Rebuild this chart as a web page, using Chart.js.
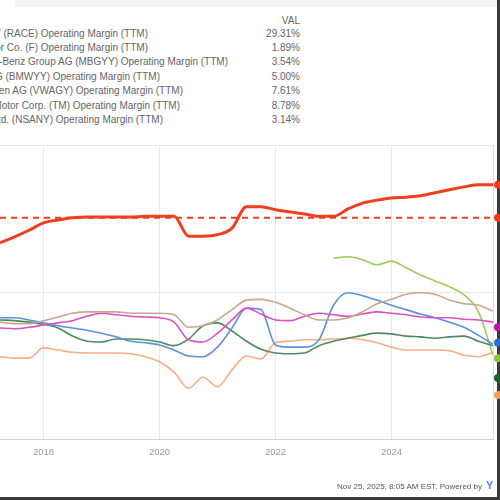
<!DOCTYPE html>
<html>
<head>
<meta charset="utf-8">
<script src="https://cdn.jsdelivr.net/npm/chart.js@4.4.1/dist/chart.umd.min.js"></script>
<style>
  html, body { margin: 0; padding: 0; background: #fff; }
  body { width: 500px; height: 500px; overflow: hidden; position: relative; font-family: "Liberation Sans", Arial, sans-serif; }
  #topBand { position: absolute; left: 15px; top: 0; width: 485px; height: 7px; background: #f3f3f3; }
  #frameR { position: absolute; left: 497px; top: 0; width: 3px; height: 500px; background: #3a3a3a; }
  #frameB { position: absolute; left: 0; top: 497px; width: 500px; height: 3px; background: #3a3a3a; }
  #chartBox { position: absolute; left: 0; top: 0; width: 500px; height: 500px; }
  .lg { position: absolute; white-space: nowrap; font-size: 10px; color: #666; line-height: 11px; }
  .val { position: absolute; white-space: nowrap; font-size: 10px; color: #666; line-height: 11px; text-align: right; }
  #stamp { position: absolute; right: 18px; top: 482px; font-size: 8px; color: #555; white-space: nowrap; }
  #logo { position: absolute; left: 486px; top: 479px; font-size: 11px; font-weight: bold; color: #3d8fe0; }
</style>
</head>
<body>
<div id="topBand"></div>
<div id="frameR"></div>
<div id="frameB"></div>
<div id="legend"></div>
<div id="chartBox"><canvas id="myChart"></canvas></div>
<div id="stamp">Nov 25, 2025, 8:05 AM EST. Powered by</div>
<div id="logo">Y</div>
<script>
// quarterly TTM dates (decimal years)
var dates = [2017.25, 2017.5, 2017.75,
  2018, 2018.25, 2018.5, 2018.75,
  2019, 2019.25, 2019.5, 2019.75,
  2020, 2020.25, 2020.5, 2020.75,
  2021, 2021.25, 2021.5, 2021.75,
  2022, 2022.25, 2022.5, 2022.75,
  2023, 2023.25, 2023.5, 2023.75,
  2024, 2024.25, 2024.5, 2024.75,
  2025, 2025.25, 2025.5, 2025.75];
var limeDates = [2023, 2023.25, 2023.5, 2023.75, 2024, 2024.25, 2024.5, 2024.75, 2025, 2025.25, 2025.5, 2025.75];

var redValues = [26.7, 27.5, 28.4, 29.4, 29.8, 30.1, 30.2, 30.2, 30.2, 30.2, 30.3, 30.3, 30.3, 27.6, 27.6, 27.8, 28.7, 31.6, 31.6, 31.2, 30.9, 30.6, 30.3, 30.3, 31.3, 32.1, 32.5, 32.8, 32.9, 33.1, 33.5, 33.9, 34.3, 34.6, 34.6];
var redRefValue = 30.1;
var tanValues = [15.9, 15.7, 15.7, 16.1, 16.6, 17.1, 17.3, 17.3, 17.3, 17.1, 17.1, 17.1, 16.9, 15.2, 15.4, 16.2, 17.6, 18.9, 19.0, 18.6, 17.8, 16.9, 16.2, 16.2, 16.5, 17.3, 18.4, 19.0, 19.7, 19.9, 19.7, 18.9, 18.4, 18.2, 17.4];
var magentaValues = [15.1, 15.0, 15.2, 15.5, 15.8, 16.1, 16.7, 17.1, 16.9, 16.7, 16.6, 16.5, 15.9, 13.5, 13.2, 14.4, 16.2, 17.8, 17.0, 16.2, 16.1, 16.7, 17.1, 16.9, 16.7, 17.0, 17.3, 17.1, 16.9, 16.6, 16.5, 16.5, 16.3, 16.2, 15.9];
var blueValues = [16.5, 16.5, 16.2, 15.8, 15.4, 15.1, 14.8, 14.4, 13.9, 13.3, 13.1, 12.8, 12.1, 11.3, 11.2, 12.5, 15.1, 17.8, 17.6, 12.8, 12.5, 12.5, 13.5, 18.2, 19.9, 19.5, 18.9, 18.2, 17.6, 17.0, 16.5, 15.9, 15.2, 14.1, 12.9];
var greenValues = [16.2, 16.1, 15.9, 15.6, 15.1, 14.0, 13.3, 13.2, 13.6, 13.6, 13.5, 13.2, 12.7, 13.6, 15.4, 15.8, 14.7, 13.3, 12.2, 11.7, 11.6, 11.7, 12.7, 13.3, 13.7, 14.1, 14.4, 14.3, 14.0, 13.9, 13.7, 13.9, 14.0, 13.3, 12.7];
var orangeValues = [11.2, 11.0, 11.0, 12.4, 12.1, 11.8, 11.7, 11.7, 11.7, 11.6, 11.2, 10.5, 9.1, 6.9, 8.4, 7.1, 9.4, 11.3, 10.9, 13.1, 13.3, 13.5, 13.5, 13.6, 13.7, 13.5, 13.1, 12.5, 12.1, 12.1, 12.1, 12.0, 11.4, 11.2, 11.8];
var limeValues = [24.6, 24.8, 24.4, 23.7, 24.2, 23.3, 22.3, 21.5, 20.7, 19.6, 17.3, 11.4];

// right-edge value flags
var markerValues = [34.6, 30.1, 15.2, 13.1, 11.0, 8.3, 6.0];
var markerColors = ["#ee3a1f", "#ee3a1f", "#b5169e", "#2d6fd3", "#8cc63f", "#1e5e2a", "#f4a261"];

var yearTicks = [2018, 2020, 2022, 2024];
var valueTicks = [0, 20, 40];

var legendNames = [
  "Ferrari NV (RACE) Operating Margin (TTM)",
  "Ford Motor Co. (F) Operating Margin (TTM)",
  "Mercedes-Benz Group AG (MBGYY) Operating Margin (TTM)",
  "Bayerische Motoren Werke AG (BMWYY) Operating Margin (TTM)",
  "Volkswagen AG (VWAGY) Operating Margin (TTM)",
  "Toyota Motor Corp. (TM) Operating Margin (TTM)",
  "Nissan Motor Co., Ltd. (NSANY) Operating Margin (TTM)"
];
var legendValues = ["29.31%", "1.89%", "3.54%", "5.00%", "7.61%", "8.78%", "3.14%"];
var legendRight = [148, 148, 228, 160, 183, 180, 163];

// legend (left part cut off like the reference)
var lg = document.getElementById("legend");
var head = document.createElement("div");
head.className = "val";
head.style.right = "200px";
head.style.top = "15px";
head.textContent = "VAL";
lg.appendChild(head);
legendNames.forEach(function (name, i) {
  var d = document.createElement("div");
  d.className = "lg";
  d.style.right = (500 - legendRight[i]) + "px";
  d.style.top = (27.5 + i * 14.4) + "px";
  d.textContent = name;
  lg.appendChild(d);
  var v = document.createElement("div");
  v.className = "val";
  v.style.right = "200px";
  v.style.top = (27.5 + i * 14.4) + "px";
  v.textContent = legendValues[i];
  lg.appendChild(v);
});

function pts(xs, ys) {
  return xs.map(function (x, i) { return { x: x, y: ys[i] }; });
}

var flagPlugin = {
  id: "flags",
  afterDatasetsDraw: function (chart) {
    var ctx = chart.ctx;
    var y = chart.scales.y;
    ctx.save();
    markerValues.forEach(function (v, i) {
      ctx.beginPath();
      ctx.fillStyle = markerColors[i];
      ctx.arc(chart.chartArea.right + 5, y.getPixelForValue(v), 4, 0, Math.PI * 2);
      ctx.fill();
    });
    ctx.restore();
  }
};

var ctx = document.getElementById("myChart").getContext("2d");
var myChart = new Chart(ctx, {
  type: "line",
  data: {
    datasets: [
      { label: "RACE", data: pts(dates, redValues), borderColor: "#f03e1f", borderWidth: 3 },
      { label: "RACE ref", data: [{ x: dates[0], y: redRefValue }, { x: dates[dates.length - 1], y: redRefValue }], borderColor: "#f03e1f", borderWidth: 2, borderDash: [6, 5] },
      { label: "tan", data: pts(dates, tanValues), borderColor: "#c9a590" },
      { label: "magenta", data: pts(dates, magentaValues), borderColor: "#de4fc6" },
      { label: "blue", data: pts(dates, blueValues), borderColor: "#5b92e0" },
      { label: "green", data: pts(dates, greenValues), borderColor: "#4f8a5c" },
      { label: "lime", data: pts(limeDates, limeValues), borderColor: "#9ccc5c" },
      { label: "orange", data: pts(dates, orangeValues), borderColor: "#f8ae85" }
    ]
  },
  options: {
    responsive: true,
    maintainAspectRatio: false,
    animation: false,
    layout: { padding: { top: 145, right: 7, bottom: 31, left: 0 } },
    elements: {
      point: { radius: 0 },
      line: { borderWidth: 1.6, cubicInterpolationMode: "monotone", fill: false }
    },
    plugins: { legend: { display: false }, tooltip: { enabled: false } },
    scales: {
      x: {
        type: "linear",
        min: 2017.25,
        max: 2025.75,
        afterBuildTicks: function (s) { s.ticks = yearTicks.map(function (v) { return { value: v }; }); },
        afterFit: function (s) { s.height = 30; },
        ticks: { color: "#999", font: { size: 9.5 }, padding: 8, maxRotation: 0, callback: function (v) { return String(v); } },
        grid: { color: "#e8e8e8", drawTicks: false },
        border: { color: "#d0d0d0" }
      },
      y: {
        position: "right",
        min: 0,
        max: 40,
        afterBuildTicks: function (s) { s.ticks = valueTicks.map(function (v) { return { value: v }; }); },
        afterFit: function (s) { s.width = 0; },
        ticks: { display: false },
        grid: { color: "#e8e8e8", drawTicks: false },
        border: { color: "#e0e0e0" }
      }
    }
  },
  plugins: [flagPlugin]
});
</script>
</body>
</html>
